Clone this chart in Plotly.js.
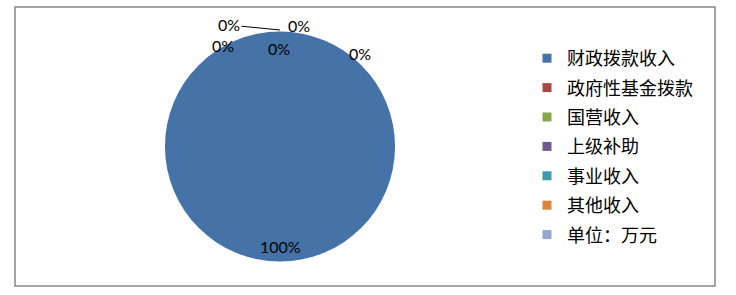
<!DOCTYPE html>
<html><head><meta charset="utf-8">
<script src="https://cdn.plot.ly/plotly-3.0.1.min.js"></script>
<style>html,body{margin:0;padding:0;background:#fff}#c{width:736px;height:295px}</style>
</head><body><div id="c"></div>
<script>
var categories = ["财政拨款收入","政府性基金拨款","国营收入","上级补助","事业收入","其他收入","单位：万元"];
var values = [100, 0, 0, 0, 0, 0, 0];
var colors = ["#4572A7","#AA4643","#89A54E","#71588F","#4198AF","#DB843D","#93A9CF"];

var W = 736, H = 295;
var cx = 280, cy = 146.5, r = 115;
var total = values.reduce(function(a,b){return a+b;},0);
function pct(v){ return Math.round(v/total*100) + "%"; }

var traces = [{
  type: "pie",
  labels: categories,
  values: values,
  sort: false,
  direction: "clockwise",
  rotation: 0,
  textinfo: "none",
  hoverinfo: "none",
  showlegend: false,
  marker: {colors: colors, line: {width: 0}},
  domain: {x: [(cx - r)/W, (cx + r)/W], y: [(H - cy - r)/H, (H - cy + r)/H]}
}];
categories.forEach(function(c, i){
  traces.push({
    type: "scatter", mode: "markers", x: [null], y: [null], name: c,
    legendgroup: "g" + i,
    marker: {symbol: "square", size: 9, color: colors[i]}
  });
});

var labelFont = {family:"Lato, 'Liberation Sans', sans-serif", size:16, color:"#000"};
// label positions for each slice (pixel), index order
var labelPos = [[280,246],[229,25],[299,25],[223,46],[279,48],[360,53]];
var annotations = labelPos.map(function(p, i){
  return {xref:"paper", yref:"paper", x:p[0]/W, y:1-p[1]/H, xanchor:"center", yanchor:"middle",
    text:pct(values[i]), showarrow:false, font:labelFont};
});
// leader line for the second slice label
annotations[1] = {xref:"paper", yref:"paper", x:280/W, y:1-30/H, ax:-51, ay:-5,
  text:pct(values[1]), showarrow:true, arrowhead:0, arrowwidth:1, arrowcolor:"#000", standoff:0,
  font:labelFont};

var layout = {
  width: W, height: H,
  margin: {l:0, r:0, t:0, b:0},
  paper_bgcolor: "#fff", plot_bgcolor: "#fff",
  xaxis: {visible:false}, yaxis: {visible:false},
  showlegend: true,
  legend: {x: 527/W, xanchor: "left", y: 1 - 40/H, yanchor: "top",
    font: {family: "'Noto Sans CJK SC', sans-serif", size: 18, color: "#000"},
    tracegroupgap: 3, bgcolor: "rgba(0,0,0,0)"},
  annotations: annotations,
  shapes: [{type:"rect", xref:"paper", yref:"paper", x0:15/W, x1:715/W, y0:1-286/H, y1:1-7/H,
    line:{color:"#888", width:1.5}}]
};
Plotly.newPlot("c", traces, layout, {staticPlot:true});
</script></body></html>
